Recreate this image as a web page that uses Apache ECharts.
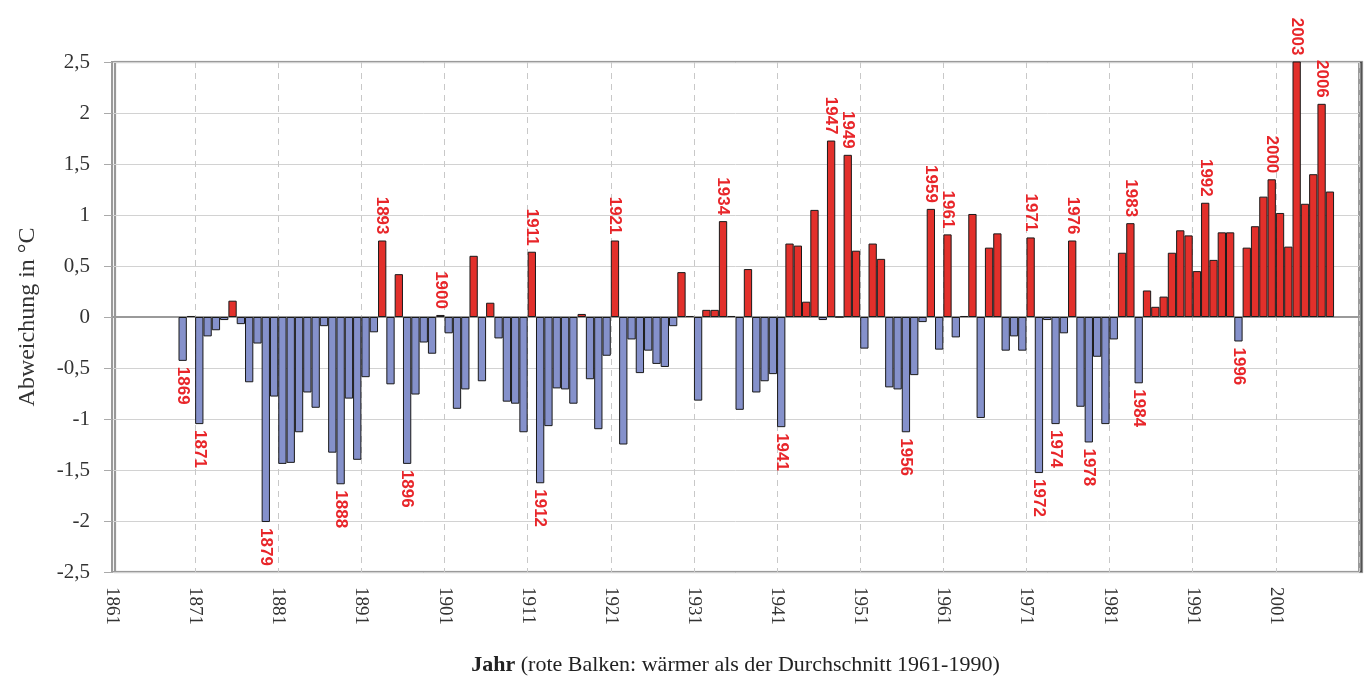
<!DOCTYPE html>
<html>
<head>
<meta charset="utf-8">
<script src="https://cdn.jsdelivr.net/npm/echarts@6/dist/echarts.min.js"></script>
<style>
html,body{margin:0;padding:0;background:#fff;}
#chart{width:1364px;height:680px;}
</style>
</head>
<body>
<div id="chart"></div>
<script>
// Years of the series
var years = [
 1869,1870,1871,1872,1873,1874,1875,1876,1877,1878,1879,1880,
 1881,1882,1883,1884,1885,1886,1887,1888,1889,1890,
 1891,1892,1893,1894,1895,1896,1897,1898,1899,1900,
 1901,1902,1903,1904,1905,1906,1907,1908,1909,1910,
 1911,1912,1913,1914,1915,1916,1917,1918,1919,1920,
 1921,1922,1923,1924,1925,1926,1927,1928,1929,1930,
 1931,1932,1933,1934,1935,1936,1937,1938,1939,1940,
 1941,1942,1943,1944,1945,1946,1947,1948,1949,1950,
 1951,1952,1953,1954,1955,1956,1957,1958,1959,1960,
 1961,1962,1963,1964,1965,1966,1967,1968,1969,1970,
 1971,1972,1973,1974,1975,1976,1977,1978,1979,1980,
 1981,1982,1983,1984,1985,1986,1987,1988,1989,1990,
 1991,1992,1993,1994,1995,1996,1997,1998,1999,2000,
 2001,2002,2003,2004,2005,2006,2007
];
// Temperature deviation (°C) from the 1961-1990 mean
var deviations = [
 -0.43,0.01,-1.05,-0.19,-0.13,-0.03,0.16,-0.07,-0.64,-0.26,-2.01,-0.78,
 -1.44,-1.43,-1.13,-0.74,-0.89,-0.09,-1.33,-1.64,-0.80,-1.40,
 -0.59,-0.15,0.75,-0.66,0.42,-1.44,-0.76,-0.25,-0.36,0.02,
 -0.16,-0.90,-0.71,0.60,-0.63,0.14,-0.21,-0.83,-0.85,-1.13,
 0.64,-1.63,-1.07,-0.70,-0.71,-0.85,0.03,-0.61,-1.10,-0.38,
 0.75,-1.25,-0.22,-0.55,-0.33,-0.46,-0.49,-0.09,0.44,0.01,
 -0.82,0.07,0.07,0.94,0.01,-0.91,0.47,-0.74,-0.63,-0.56,
 -1.08,0.72,0.70,0.15,1.05,-0.03,1.73,0,1.59,0.65,
 -0.31,0.72,0.57,-0.69,-0.71,-1.13,-0.57,-0.05,1.06,-0.32,
 0.81,-0.20,0.01,1.01,-0.99,0.68,0.82,-0.33,-0.19,-0.33,
 0.78,-1.53,-0.03,-1.05,-0.16,0.75,-0.88,-1.23,-0.39,-1.05,
 -0.22,0.63,0.92,-0.65,0.26,0.10,0.20,0.63,0.85,0.80,
 0.45,1.12,0.56,0.83,0.83,-0.24,0.68,0.89,1.18,1.35,
 1.02,0.69,2.51,1.11,1.40,2.09,1.23
];
// Years that carry a red label
var labelledYears = [1869,1871,1879,1888,1893,1896,1900,1911,1912,1921,1934,1941,1947,1949,
 1956,1959,1961,1971,1972,1974,1976,1978,1983,1984,1992,1996,2000,2003,2006];
// Axis ticks
var xMin = 1861, xMax = 2011, xStep = 10;
var yMin = -2.5, yMax = 2.5, yStep = 0.5;

var WARM = '#e2302b', COLD = '#8591cb', LABEL = '#e8262a';

var barData = years.map(function (yr, i) {
  var v = deviations[i];
  var item = {
    value: [yr + 0.5, v],
    itemStyle: { color: v > 0 ? WARM : COLD }
  };
  if (labelledYears.indexOf(yr) >= 0) {
    item.label = {
      show: true,
      formatter: String(yr),
      position: v >= 0 ? 'top' : 'bottom',
      rotate: -90,
      align: v >= 0 ? 'right' : 'left',
      verticalAlign: 'middle',
      distance: 6
    };
  }
  return item;
});

var chart = echarts.init(document.getElementById('chart'));
chart.setOption({
  backgroundColor: '#fff',
  animation: false,
  grid: {
    left: 112, right: 5, top: 62, bottom: 108,
    containLabel: false,
    outerBoundsMode: 'none',
    show: true, borderColor: '#9a9a9a', borderWidth: 2,
    backgroundColor: '#fff',
    shadowColor: 'rgba(0,0,0,0.45)', shadowOffsetX: 3, shadowOffsetY: 0, shadowBlur: 1
  },
  xAxis: {
    type: 'value',
    min: xMin, max: xMax, interval: xStep,
    name: '{b|Jahr} (rote Balken: wärmer als der Durchschnitt 1961-1990)',
    nameLocation: 'middle',
    nameGap: 82,
    nameTextStyle: {
      fontFamily: 'Liberation Serif', fontSize: 22, color: '#222',
      rich: { b: { fontFamily: 'Liberation Serif', fontSize: 22, fontWeight: 'bold', color: '#222' } }
    },
    axisLine: { show: true, lineStyle: { color: '#9a9a9a', width: 2 } },
    axisTick: { show: false },
    axisLabel: {
      rotate: -90, margin: 15,
      showMaxLabel: false,
      fontFamily: 'Liberation Serif', fontSize: 19, color: '#333',
      formatter: function (v) { return String(v); }
    },
    splitLine: { show: true, lineStyle: { color: '#c8c8c8', type: [6, 5], width: 1 } }
  },
  yAxis: {
    type: 'value',
    min: yMin, max: yMax, interval: yStep,
    name: 'Abweichung in °C',
    nameLocation: 'middle',
    nameGap: 72,
    nameTextStyle: { fontFamily: 'Liberation Serif', fontSize: 24, color: '#333' },
    axisLine: { show: true, lineStyle: { color: '#9a9a9a', width: 2 } },
    axisTick: { show: true, inside: false, length: 8, lineStyle: { color: '#aaa' } },
    axisLabel: {
      margin: 22,
      fontFamily: 'Liberation Serif', fontSize: 21, color: '#333',
      formatter: function (v) { return String(+v.toFixed(1)).replace('.', ','); }
    },
    splitLine: { show: true, lineStyle: { color: '#d2d2d2', width: 1 } }
  },
  series: [{
    type: 'bar',
    data: barData,
    barWidth: 8.3,
    itemStyle: { borderColor: '#1a1a1a', borderWidth: 1 },
    label: {
      show: false,
      color: LABEL,
      fontFamily: 'Liberation Sans',
      fontWeight: 'bold',
      fontSize: 17
    }
  }]
});
</script>
</body>
</html>
